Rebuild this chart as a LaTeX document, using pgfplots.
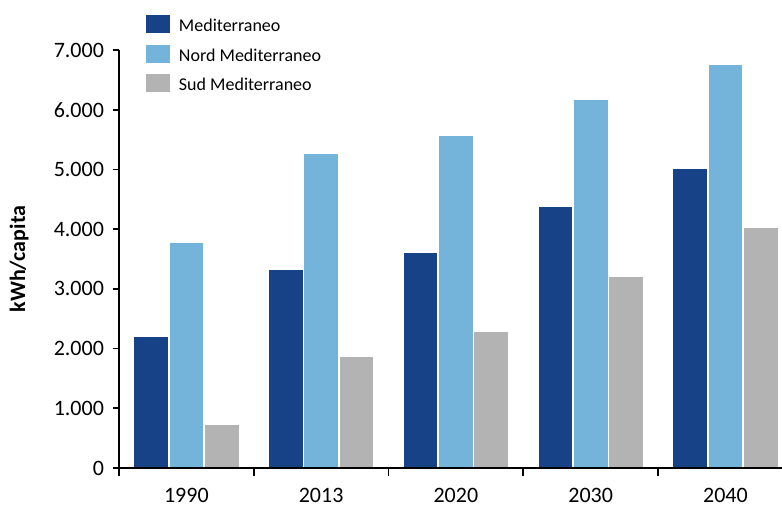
\documentclass[border=0pt]{standalone}
\usepackage{fontspec}
\setmainfont{Carlito}
\usepackage{pgfplots}
\pgfplotsset{compat=1.18}
\definecolor{medblue}{HTML}{174287}
\definecolor{nordblue}{HTML}{74B3DA}
\definecolor{sudgray}{HTML}{B3B3B3}

\begin{document}
\begin{tikzpicture}
\path[use as bounding box] (-59.5pt,-22pt) rectangle (331.5pt,234pt);
\begin{axis}[
  at={(0,0)}, anchor=south west,
  scale only axis, width=331.5pt, height=209pt,
  ybar=0pt, bar width=17.65pt,
  xmin=-0.5, xmax=4.42, ymin=0, ymax=7000,
  axis x line*=bottom, axis y line*=left,
  axis on top,
  axis line style={line width=0.8pt, black},
  every tick/.style={line width=0.8pt, black},
  xtick={0,...,4}, xticklabels={1990,2013,2020,2030,2040},
  major x tick style={draw=none},
  minor xtick={-0.5,0.5,1.5,2.5,3.5},
  ytick={0,1000,...,7000},
  tick align=outside,
  major tick length=3pt, minor tick length=4pt,
  scaled y ticks=false,
  /pgf/number format/1000 sep={.},
  /pgf/number format/assume math mode=true,
  tick label style={font=\fontsize{11}{13}\selectfont},
  xticklabel style={yshift=-3.5pt},
  yticklabel style={xshift=-1pt},
  ylabel={kWh/capita},
  ylabel style={at={(axis description cs:-0.1508,0.5)}, anchor=center,
    font=\fontsize{11}{13}\selectfont\bfseries},
  legend style={at={(axis description cs:0.0407,1.0837)}, anchor=north west,
    draw=none, fill=none, inner sep=0pt, outer sep=0pt,
    row sep=5.85pt, column sep=4.5pt,
    font=\fontsize{9}{10}\selectfont,
    nodes={inner sep=0pt, text height=8.2pt, text depth=0.8pt}},
  legend cell align=left,
  legend image code/.code={\fill[#1,draw=none] (0pt,-4.5pt) rectangle (12pt,4.5pt);},
]
\addplot[fill=medblue, draw=white, line width=0.8pt]
  coordinates {(0,2215) (1,3330) (2,3620) (3,4390) (4,5020)};
\addplot[fill=nordblue, draw=white, line width=0.8pt]
  coordinates {(0,3785) (1,5265) (2,5580) (3,6180) (4,6770)};
\addplot[fill=sudgray, draw=white, line width=0.8pt]
  coordinates {(0,730) (1,1870) (2,2290) (3,3215) (4,4040)};
\legend{Mediterraneo, Nord Mediterraneo, Sud Mediterraneo}
\end{axis}
\end{tikzpicture}
\end{document}
